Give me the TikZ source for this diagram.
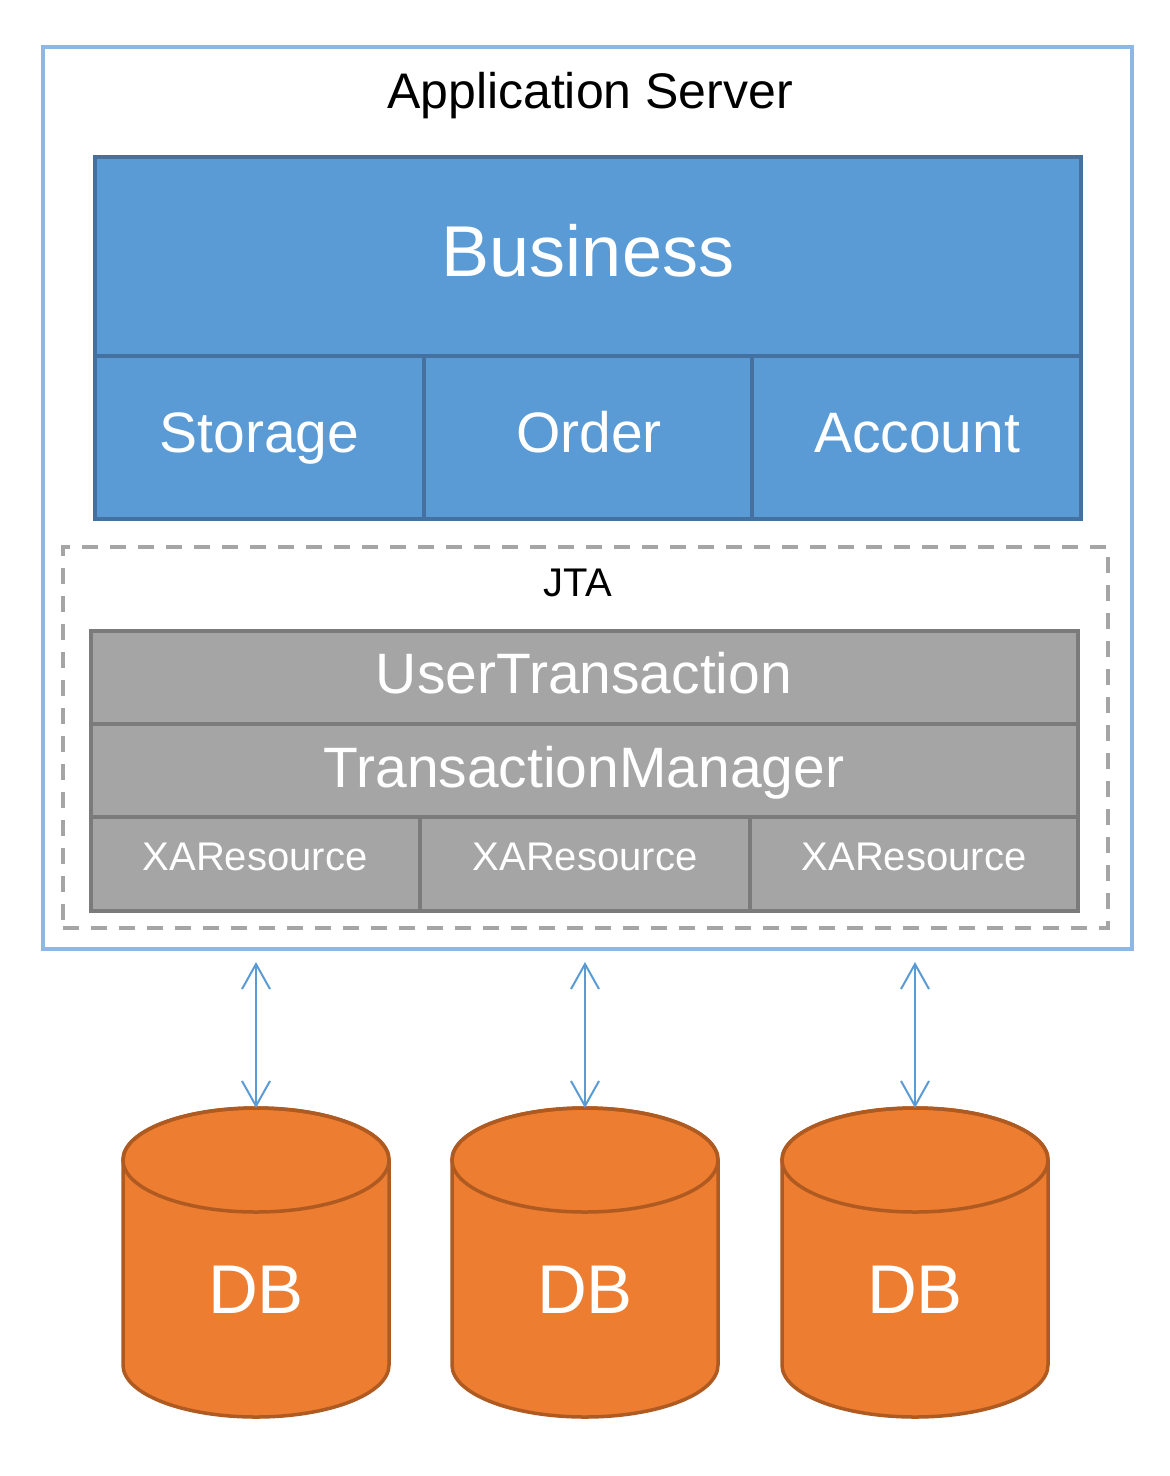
\documentclass[tikz,border=0pt]{standalone}
\usepackage{fontspec}
\setmainfont{Liberation Sans}
\usetikzlibrary{arrows.meta}
\definecolor{bfill}{HTML}{5B9BD5}
\definecolor{bdraw}{HTML}{44719F}
\definecolor{gfill}{HTML}{A5A5A5}
\definecolor{gdraw}{HTML}{7B7B7B}
\definecolor{outerc}{HTML}{8EB8E3}
\definecolor{dashc}{HTML}{A5A5A5}
\definecolor{ofill}{HTML}{ED7D31}
\definecolor{odraw}{HTML}{AE5A21}
\definecolor{arrowc}{HTML}{5B9BD5}
\begin{document}
\begin{tikzpicture}[x=1pt,y=-1pt,
  box/.style={rectangle, inner sep=0pt, outer sep=0pt, line width=4pt},
  bluebox/.style={box, draw=bdraw, fill=bfill},
  graybox/.style={box, draw=gdraw, fill=gfill},
  frame/.style={rectangle, inner sep=0pt, outer sep=0pt},
  txt/.style={inner sep=0pt, text depth=0pt},
  wtxt/.style={txt, text=white},
  f40/.style={font=\fontsize{40}{40}\selectfont, text height=28.6pt},
  f50/.style={font=\fontsize{50}{50}\selectfont, text height=35.8pt},
  f57/.style={font=\fontsize{57}{57}\selectfont, text height=40.8pt},
  f69/.style={font=\fontsize{69}{69}\selectfont, text height=49.4pt},
  f72/.style={font=\fontsize{72}{72}\selectfont, text height=51.6pt},
  cyl/.style={fill=ofill, draw=odraw, line width=3.5pt},
  link/.style={draw=arrowc, line width=2pt, {Straight Barb[length=25pt,width=28pt]}-{Straight Barb[length=25pt,width=28pt]}}
]
\fill[white] (0,0) rectangle (1170,1476);
\useasboundingbox (0,0) rectangle (1170,1476);

% Application server frame
\node[frame, draw=outerc, line width=4pt, minimum width=1089pt, minimum height=902pt] (app) at (587.5,498) {};
\node[txt, f50] (apptitle) at (590,91) {Application Server};

% Business block
\node[bluebox, minimum width=986pt, minimum height=199pt] (business) at (588,256.5) {};
\node[bluebox, minimum width=329pt, minimum height=163pt] (storage) at (259.5,437.5) {};
\node[bluebox, minimum width=328pt, minimum height=163pt] (order) at (588,437.5) {};
\node[bluebox, minimum width=329pt, minimum height=163pt] (account) at (916.5,437.5) {};
\node[wtxt, f72] (businesst) at (588,250.5) {Business};
\node[wtxt, f57] (storaget) at (259.5,432) {Storage};
\node[wtxt, f57] (ordert) at (589,432) {Order};
\node[wtxt, f57] (accountt) at (917,432) {Account};

% JTA frame
\node[frame, draw=dashc, line width=4pt, dash pattern=on 16pt off 12pt, minimum width=1045pt, minimum height=381pt] (jta) at (585.5,737.5) {};
\node[txt, f40] (jtatitle) at (578,582.5) {JTA};

\node[graybox, minimum width=987pt, minimum height=93pt] (ut) at (584.5,677.5) {};
\node[graybox, minimum width=987pt, minimum height=93pt] (tm) at (584.5,770.5) {};
\node[graybox, minimum width=329pt, minimum height=94pt] (xa1) at (255.5,864) {};
\node[graybox, minimum width=330pt, minimum height=94pt] (xa2) at (585,864) {};
\node[graybox, minimum width=328pt, minimum height=94pt] (xa3) at (914,864) {};
\node[wtxt, f57] (utt) at (584,673) {UserTransaction};
\node[wtxt, f57] (tmt) at (584,767) {TransactionManager};
\node[wtxt, f40] (xa1t) at (255,856) {XAResource};
\node[wtxt, f40] (xa2t) at (585,856) {XAResource};
\node[wtxt, f40] (xa3t) at (914,856) {XAResource};

% Databases
\foreach \n/\cx in {1/256,2/585,3/915}{
  \filldraw[cyl] (\cx-133,1160) -- (\cx-133,1365)
    arc[start angle=180, end angle=360, x radius=133pt, y radius=52pt]
    -- (\cx+133,1160)
    arc[start angle=0, end angle=180, x radius=133pt, y radius=52pt] -- cycle;
  \draw[odraw, line width=3.5pt] (\cx,1160) ellipse [x radius=133pt, y radius=52pt];
  \node[frame, minimum width=266pt, minimum height=309pt] (db\n) at (\cx,1262.5) {};
  \node[wtxt, f69] (dbl\n) at (\cx,1289) {DB};
  \coordinate (t\n) at (\cx,962);
  \draw[link] (t\n) -- (db\n.north);
}
\end{tikzpicture}
\end{document}
